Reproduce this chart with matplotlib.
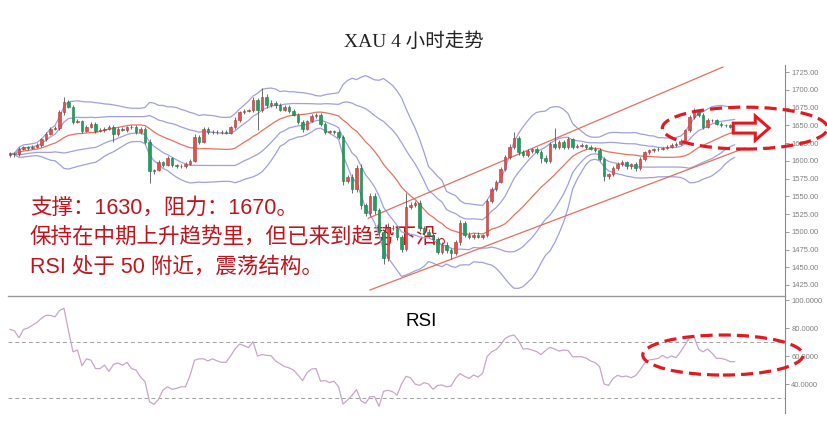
import numpy as np
import pandas as pd
import matplotlib
matplotlib.use("Agg")
from matplotlib import pyplot as plt
from matplotlib.patches import Ellipse, FancyArrow

plt.rcParams['font.family'] = ['Liberation Sans', 'Noto Sans CJK SC', 'DejaVu Sans']

# 4 小时收盘价（按K线顺序）
closes = [
    1610, 1609, 1617, 1619, 1618, 1620, 1622, 1630, 1638, 1645,
    1646, 1668, 1683, 1676, 1655, 1656, 1642, 1648, 1652, 1642,
    1643, 1645, 1648, 1637, 1645, 1644, 1647, 1648, 1640, 1645,
    1627, 1585, 1587, 1598, 1594, 1604, 1594, 1592, 1593, 1596,
    1600, 1633, 1627, 1645, 1640, 1641, 1640, 1641, 1639, 1647,
    1658, 1668, 1670, 1671, 1686, 1672, 1690, 1678, 1682, 1678,
    1672, 1676, 1670, 1665, 1655, 1645, 1656, 1663, 1665, 1652,
    1641, 1642, 1640, 1633, 1572, 1577, 1560, 1590, 1537, 1526,
    1550, 1530, 1500, 1463, 1505, 1505, 1492, 1476, 1535, 1538,
    1540, 1505, 1500, 1495, 1490, 1472, 1482, 1474, 1470, 1485,
    1512, 1496, 1493, 1496, 1493, 1495, 1543, 1560, 1570, 1588,
    1605, 1620, 1632, 1612, 1608, 1614, 1616, 1612, 1604, 1600,
    1624, 1620, 1626, 1619, 1630, 1620, 1621, 1622, 1620, 1617,
    1615, 1603, 1578, 1581, 1590, 1596, 1598, 1592, 1595, 1590,
    1602, 1612, 1615, 1616, 1617, 1618, 1620, 1622, 1624, 1628,
    1643, 1662, 1668, 1665, 1648, 1657, 1657, 1652, 1650, 1650,
    1648, 1647]
first_open = 1608

# 影线长度（美元）
upper_wick = [
    2, 2, 3, 2, 2, 2, 3, 2, 2, 2,
    3, 3, 7, 3, 2, 3, 2, 3, 2, 2,
    3, 2, 3, 2, 2, 3, 2, 2, 2, 3,
    2, 3, 2, 3, 2, 3, 2, 2, 3, 2,
    2, 4, 3, 3, 2, 3, 2, 2, 3, 2,
    3, 2, 3, 2, 4, 3, 12, 4, 3, 2,
    3, 2, 2, 3, 2, 3, 2, 3, 2, 2,
    3, 2, 2, 3, 3, 3, 4, 4, 5, 3,
    4, 5, 3, 3, 8, 4, 3, 3, 20, 4,
    4, 5, 3, 4, 3, 3, 4, 3, 3, 4,
    4, 3, 3, 2, 3, 2, 3, 3, 3, 3,
    3, 4, 8, 3, 3, 3, 2, 3, 3, 4,
    3, 22, 3, 3, 3, 2, 2, 3, 2, 2,
    2, 3, 3, 2, 3, 2, 3, 2, 2, 3,
    3, 2, 2, 2, 2, 2, 2, 3, 2, 2,
    2, 3, 6, 3, 2, 3, 2, 2, 2, 2,
    2, 2]
lower_wick = [
    2, 3, 2, 2, 3, 2, 2, 3, 2, 2,
    2, 2, 3, 2, 3, 2, 3, 2, 2, 3,
    2, 3, 2, 10, 2, 2, 3, 2, 3, 2,
    3, 16, 3, 2, 3, 2, 3, 2, 2, 3,
    2, 2, 3, 2, 3, 2, 2, 3, 2, 2,
    2, 3, 2, 2, 2, 29, 3, 3, 2, 3,
    2, 2, 3, 2, 3, 4, 2, 2, 3, 3,
    3, 2, 3, 3, 6, 4, 5, 4, 5, 4,
    4, 5, 4, 8, 4, 3, 4, 4, 3, 3,
    3, 4, 5, 3, 4, 4, 3, 4, 8, 3,
    3, 4, 3, 3, 2, 3, 3, 3, 3, 2,
    3, 2, 3, 4, 3, 3, 3, 3, 7, 3,
    3, 3, 3, 3, 2, 3, 2, 2, 3, 2,
    3, 3, 6, 4, 3, 3, 3, 3, 3, 4,
    3, 2, 2, 2, 2, 2, 2, 2, 2, 2,
    2, 2, 3, 3, 3, 2, 2, 2, 2, 2,
    2, 2]

rsi = [
    79, 78, 73, 79, 80, 82, 84, 87, 89, 89,
    88, 92.5, 94, 78, 63, 64.3, 53, 58, 57, 51,
    51, 53.5, 49, 54, 55, 53.5, 55.5, 51, 50, 45,
    41.7, 27.4, 25.5, 29, 35.7, 38, 36.2, 36.9, 38, 38,
    46, 57, 58, 58, 56.5, 58, 56.5, 55.5, 55.5, 60,
    65, 68.5, 67.5, 66, 70.2, 60, 61, 60.5, 60.2, 56.5,
    54.5, 52.5, 51.5, 50, 46.4, 42.4, 48, 50.7, 51, 42,
    42.5, 41, 42, 38, 25.7, 28.6, 32, 36, 28, 26.2,
    31, 31, 24, 34.8, 35.5, 34.5, 32, 40, 45.5, 44.5,
    40, 39, 41, 40, 36.2, 39, 39.3, 38, 38.5, 44,
    47.5, 45.5, 44, 46.4, 45, 47.6, 59.5, 63, 64.5, 68,
    72.5, 74.2, 75, 71, 65, 65.2, 64.3, 63.2, 61, 64,
    66.2, 65, 63.5, 64.3, 64, 59.5, 59.5, 59.5, 58.5, 56.5,
    55.3, 52.5, 40, 39, 44, 46.2, 45.2, 45.7, 44.5, 46,
    50, 55, 57.2, 57.6, 58.3, 60.5, 58.5, 60, 58.8, 63,
    68, 73, 73.5, 65, 63, 65, 62, 58.3, 58.3, 57.5,
    56, 56]

price_ticks = list(range(1425, 1726, 25))
rsi_ticks = [40, 60, 80, 100]
rsi_levels = [70, 30]

# 趋势通道：(K线序号, 价格)
channel_top = [(79.6, 1519), (158.4, 1732)]
channel_bottom = [(80.0, 1418), (163.3, 1618)]

notes = ["支撑：1630，阻力：1670。",
         "保持在中期上升趋势里，但已来到趋势下沿。",
         "RSI 处于 50 附近，震荡结构。"]

RED = '#e3191f'
BAND = '#a0a0dc'
GRAY = '#8a8a8a'

n = len(closes)
idx = np.arange(n)
c = np.array(closes, dtype=float)
o = np.array([first_open] + closes[:-1], dtype=float)
hi = np.maximum(o, c) + np.array(upper_wick)
lo = np.minimum(o, c) - np.array(lower_wick)
up = c >= o

s = pd.Series(c)
mid = s.rolling(20, min_periods=1).mean()
sd = s.rolling(20, min_periods=1).std(ddof=0)

fig = plt.figure(figsize=(8.28, 4.22), dpi=100)
ax = fig.add_axes([8 / 828, 1 - 296 / 422, 777 / 828, 231 / 422])
ax2 = fig.add_axes([8 / 828, 1 - 413 / 422, 777 / 828, 117 / 422])

# 布林带
for k in (1, 2):
    ax.plot(idx, mid + k * sd, color=BAND, lw=0.9, zorder=2)
    ax.plot(idx, mid - k * sd, color=BAND, lw=0.9, zorder=2)
ax.plot(idx, mid, color='#e5735f', lw=0.9, zorder=2)

# 通道线
for line in (channel_top, channel_bottom):
    ax.plot([p[0] for p in line], [p[1] for p in line], color='#e07060', lw=0.9, zorder=2)

# K线
ax.vlines(idx, lo, hi, color='#555555', lw=0.6, zorder=3)
body = np.maximum(np.abs(c - o), 0.8)
ax.bar(idx, body, bottom=np.minimum(o, c), width=0.62,
       color=np.where(up, '#e2514c', '#20a060'),
       edgecolor=np.where(up, '#a83a36', '#157a45'), lw=0.4, zorder=4)

for k, note in enumerate(notes):
    ax.text(0.0283, 0.381 - k * 0.128, note, transform=ax.transAxes, fontsize=15.5,
            color='#c0141c', va='center', ha='left', zorder=1)

ax.add_patch(Ellipse((163.3, 1646), 36.7, 59, fill=False, ec=RED, lw=2.3,
                     ls=(0, (3.8, 1.9)), clip_on=False, zorder=6))
ax.add_patch(FancyArrow(160.7, 1646, 8.0, 0, width=14, head_width=34, head_length=3.1,
                        length_includes_head=True, fc='white', ec=RED, lw=2.2,
                        clip_on=False, zorder=7))

ax.set_xlim(-0.44, 172.2)
ax.set_ylim(1409.5, 1734.9)
ax.set_yticks(price_ticks)
ax.set_yticklabels([f"{t:.2f}" for t in price_ticks])

# RSI
ax2.plot(idx, rsi, color='#c8a6c8', lw=0.9, zorder=3)
for lvl in rsi_levels:
    ax2.axhline(lvl, color='#a0a0a0', lw=0.7, ls=(0, (4, 3)), zorder=1)
ax2.text(0.511, 0.778, "RSI", transform=ax2.transAxes, fontsize=13.5, va='center', ha='left')
ax2.add_patch(Ellipse((158.4, 60.7), 35.6, 28.6, fill=False, ec=RED, lw=2.3,
                      ls=(0, (3.8, 1.9)), clip_on=False, zorder=6))
ax2.set_xlim(-0.44, 172.2)
ax2.set_ylim(19.3, 102.86)
ax2.set_yticks(rsi_ticks)
ax2.set_yticklabels([f"{t:.4f}" for t in rsi_ticks])

for a in (ax, ax2):
    a.set_xticks([])
    a.set_facecolor('none')
    for side in ('left', 'top', 'bottom'):
        a.spines[side].set_visible(False)
    a.spines['right'].set_color(GRAY)
    a.spines['right'].set_linewidth(0.8)
    a.yaxis.tick_right()
    a.tick_params(axis='y', direction='out', length=3, width=0.6, color=GRAY,
                  labelsize=5.5, labelcolor='#7f7f7f', pad=1.5)
ax2.spines['top'].set_visible(True)
ax2.spines['top'].set_color('#999999')
ax2.spines['top'].set_linewidth(1.0)

fig.text(0.5, 1 - 42 / 422, "XAU 4 小时走势", ha='center', va='center', fontsize=14,
         color='#222222', family=['Liberation Serif', 'Noto Sans CJK SC'])

plt.savefig("out.png", dpi=100)
